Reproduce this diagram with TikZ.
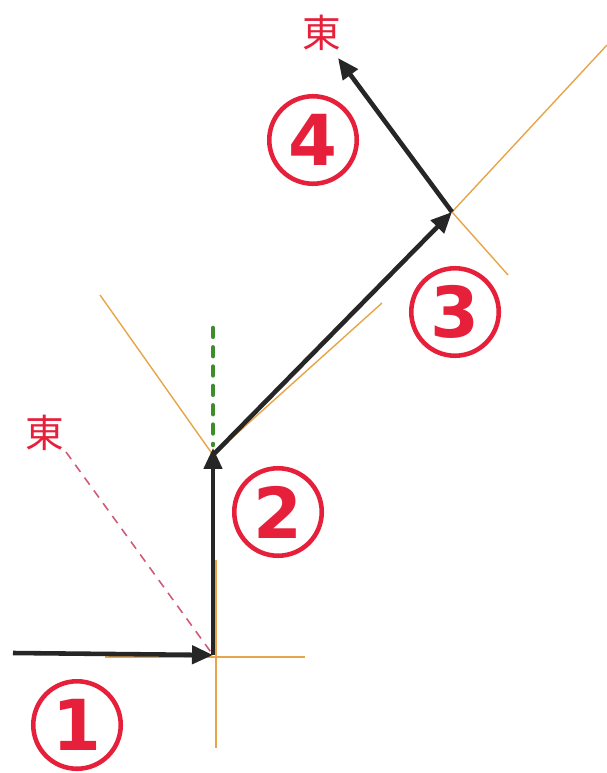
\documentclass[tikz,border=0pt]{standalone}
\usepackage{fontspec}
\usepackage{xcolor}
\usetikzlibrary{arrows.meta, positioning}
\newfontfamily\jpfont{Noto Sans CJK JP}
\newfontfamily\numfont{DejaVu Sans}
\definecolor{markred}{RGB}{230,32,58}
\definecolor{guideorange}{RGB}{232,164,72}
\definecolor{northgreen}{RGB}{62,140,44}
\definecolor{eastpink}{RGB}{206,92,120}

\begin{document}
\begin{tikzpicture}[
    x=0.02cm, y=-0.02cm,
    >={Triangle[length=4.2mm, width=3.6mm]},
    move/.style={->, line width=2.6pt, black!85},
    guide/.style={guideorange, line width=0.8pt},
    num/.style={draw=markred, circle, line width=2.6pt, minimum size=1.75cm, inner sep=0pt,
        text=markred, font=\numfont\bfseries\fontsize{40}{40}\selectfont},
    dir/.style={text=markred, font=\jpfont\fontsize{22}{22}\selectfont, inner sep=1pt},
]
    \useasboundingbox (0,0) rectangle (607,773);
    \coordinate (s) at (13,653);
    \coordinate (p1) at (213,655);
    \coordinate (p2) at (213,455);
    \coordinate (p3) at (452,212);
    \coordinate (tip) at (338,58);
    % orange guide lines
    \draw[guide] (105,657) -- (305,657);
    \draw[guide] (216,560) -- (216,748);
    \draw[guide] (100,295) -- (p2) -- (382,303);
    \draw[guide] (607,45) -- (p3);
    \draw[guide] (402,144) -- (p3) -- (508,275);
    % north and east hints
    \draw[northgreen, line width=2.6pt, line cap=round, dash pattern=on 5pt off 6pt] (213,328) -- (213,445);
    \node[dir] (east1) at (45,433) {東};
    \draw[eastpink, line width=0.9pt, dash pattern=on 5pt off 4pt] (66,452) -- (p1);
    % moves
    \draw[move] (s) -- (p1);
    \draw[move] (p1) -- ([yshift=4]p2);
    \draw[move] (p2) -- (p3);
    \draw[move] (p3) -- (tip);
    \node[dir] (east2) at (322,33) {東};
    % step labels
    \node[num] (n1) at (77,725) {1};
    \node[num] (n2) at (278,512) {2};
    \node[num] (n3) at (455,312) {3};
    \node[num] (n4) at (313,140) {4};
\end{tikzpicture}
\end{document}
